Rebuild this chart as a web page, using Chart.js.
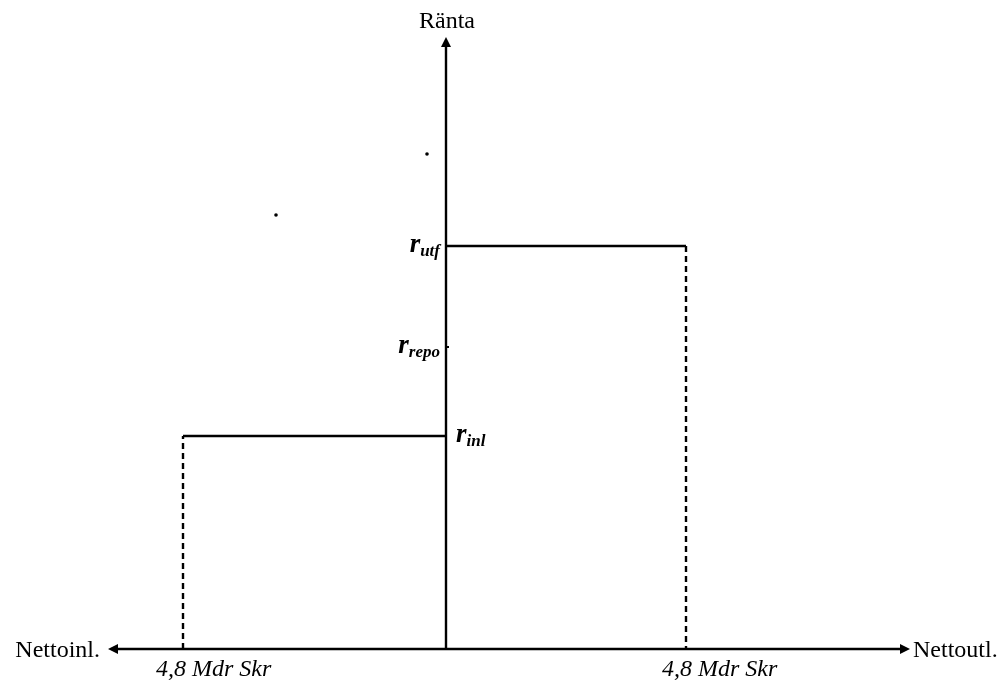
<!DOCTYPE html>
<html>
<head>
<meta charset="utf-8">
<script src="https://cdn.jsdelivr.net/npm/chart.js@4/dist/chart.umd.min.js"></script>
<style>
  html, body { margin: 0; padding: 0; background: #fff; }
  #wrap { width: 1004px; height: 682px; }
</style>
</head>
<body>
<div id="wrap"><canvas id="c" width="1004" height="682"></canvas></div>
<script>
// axel: x = nettoinlåning (vänster) / nettoutlåning (höger), y = ränta
var xMin = -6.76, xMax = 9.28;
var yMin = 0, yMax = 6.12;

// räntenivåer (skrivs som r med index)
var rateNames = ['utf', 'repo', 'inl'];
var rateValues = [4.03, 3.02, 2.13];

// volymer vid hörnen (Mdr Skr)
var volInl = -5.26;
var volUtf = 4.8;
var volLabel = '4,8 Mdr Skr';

var axisTitleY = 'Ränta';
var axisLeft = 'Nettoinl.';
var axisRight = 'Nettoutl.';

// små prickar i originalet
var speckX = [-0.38, -3.4];
var speckY = [4.95, 4.34];

var rUtf = rateValues[0], rRepo = rateValues[1], rInl = rateValues[2];

function seg(pts, dash) {
  return {
    data: pts,
    borderColor: '#000',
    borderWidth: 2.4,
    borderDash: dash || [],
    pointRadius: 0,
    showLine: true,
    fill: false,
    tension: 0
  };
}

var labelPlugin = {
  id: 'labels',
  afterDatasetsDraw: function(chart) {
    var ctx = chart.ctx;
    var xs = chart.scales.x, ys = chart.scales.y;
    var x0 = xs.getPixelForValue(0), y0 = ys.getPixelForValue(0);
    var top = ys.getPixelForValue(yMax);
    var left = xs.getPixelForValue(xMin), right = xs.getPixelForValue(xMax);
    ctx.save();
    ctx.fillStyle = '#000';

    // pilspetsar
    function arrow(tx, ty, dx, dy) {
      var L = 10, W = 5;
      ctx.beginPath();
      ctx.moveTo(tx, ty);
      ctx.lineTo(tx - dx * L - dy * W, ty - dy * L + dx * W);
      ctx.lineTo(tx - dx * L + dy * W, ty - dy * L - dx * W);
      ctx.closePath();
      ctx.fill();
    }
    arrow(x0, top, 0, -1);
    arrow(left, y0, -1, 0);
    arrow(right, y0, 1, 0);

    // axeltexter
    ctx.font = '24px "Liberation Serif"';
    ctx.textBaseline = 'alphabetic';
    ctx.textAlign = 'center';
    ctx.fillText(axisTitleY, x0 + 1, 28);
    ctx.textAlign = 'right';
    ctx.fillText(axisLeft, left - 8, y0 + 8);
    ctx.textAlign = 'left';
    ctx.fillText(axisRight, right + 3, y0 + 8);

    // volymetiketter
    ctx.font = 'italic 24px "Liberation Serif"';
    ctx.textAlign = 'left';
    ctx.fillText(volLabel, xs.getPixelForValue(volInl) - 27, y0 + 27);
    ctx.fillText(volLabel, xs.getPixelForValue(volUtf) - 24, y0 + 27);

    // räntor
    function rate(name, val, side) {
      var y = ys.getPixelForValue(val);
      ctx.font = 'italic bold 27px "Liberation Serif"';
      var wr = ctx.measureText('r').width;
      ctx.font = 'italic bold 17px "Liberation Serif"';
      var ws = ctx.measureText(name).width;
      var start = side < 0 ? x0 - 6 - wr - ws : x0 + 10;
      ctx.textAlign = 'left';
      ctx.font = 'italic bold 27px "Liberation Serif"';
      ctx.fillText('r', start, y + 6);
      ctx.font = 'italic bold 17px "Liberation Serif"';
      ctx.fillText(name, start + wr, y + 10);
    }
    rate(rateNames[0], rUtf, -1);
    rate(rateNames[1], rRepo, -1);
    rate(rateNames[2], rInl, 1);

    // liten markering vid repo
    ctx.fillRect(x0 - 1, ys.getPixelForValue(rRepo) - 1, 4, 2);
    ctx.restore();
  }
};

var specks = speckX.map(function(x, i) { return { x: x, y: speckY[i] }; });

new Chart(document.getElementById('c'), {
  type: 'scatter',
  data: {
    datasets: [
      seg([{ x: 0, y: yMin }, { x: 0, y: yMax - 0.08 }]),
      seg([{ x: xMin + 0.16, y: 0 }, { x: xMax - 0.16, y: 0 }]),
      seg([{ x: volInl, y: rInl }, { x: 0, y: rInl }]),
      seg([{ x: volInl, y: 0 }, { x: volInl, y: rInl }], [6, 4]),
      seg([{ x: 0, y: rUtf }, { x: volUtf, y: rUtf }]),
      seg([{ x: volUtf, y: rUtf }, { x: volUtf, y: 0 }], [6, 4]),
      {
        data: specks,
        pointRadius: 1.8,
        pointBackgroundColor: '#000',
        pointBorderWidth: 0,
        showLine: false
      }
    ]
  },
  options: {
    responsive: false,
    animation: false,
    clip: false,
    layout: { padding: { left: 108, right: 94, top: 37, bottom: 33 } },
    plugins: { legend: { display: false }, tooltip: { enabled: false } },
    scales: {
      x: { type: 'linear', min: xMin, max: xMax, display: false },
      y: { type: 'linear', min: yMin, max: yMax, display: false }
    }
  },
  plugins: [labelPlugin]
});
</script>
</body>
</html>
